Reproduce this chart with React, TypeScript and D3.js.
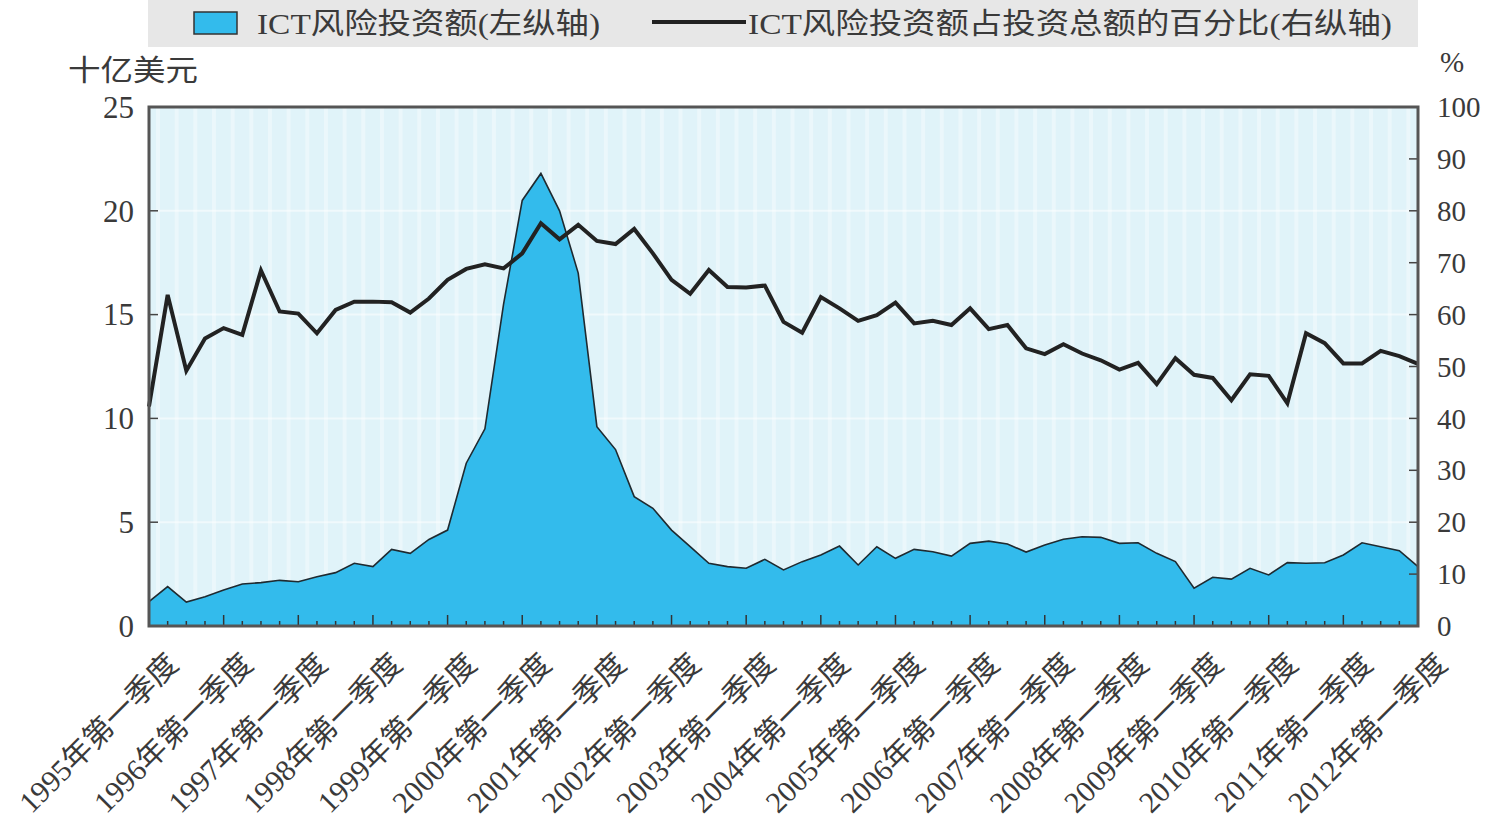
import React from "react";
import * as d3 from "d3";

const years = d3.range(1995, 2013).map((y) => `${y}年第一季度`);

// ICT venture investment, billion USD (left axis), quarterly 1995Q1–2012Q1
const ictInvestment = [
  1.17, 1.9, 1.15, 1.41, 1.73, 2.02, 2.09, 2.2, 2.13, 2.37, 2.57, 3.02, 2.86, 3.69, 3.5, 4.17, 4.62,
  7.84, 9.5, 15.5, 20.5, 21.8, 20.0, 17.0, 9.6, 8.5, 6.23, 5.67, 4.62, 3.82, 3.02, 2.86, 2.78,
  3.21, 2.7, 3.1, 3.42, 3.85, 2.94, 3.82, 3.26, 3.69, 3.58, 3.37, 3.98, 4.09, 3.95, 3.56, 3.9,
  4.18, 4.3, 4.27, 3.98, 4.01, 3.5, 3.1, 1.82, 2.35, 2.26, 2.78, 2.46, 3.05, 3.02, 3.05, 3.42,
  4.01, 3.82, 3.63, 2.86,
];

// Share of ICT in total venture investment, % (right axis)
const ictShare = [
  42.3, 63.8, 49.2, 55.4, 57.4, 56.1, 68.5, 60.6, 60.2, 56.4, 60.9, 62.5, 62.5, 62.4, 60.4, 63.1,
  66.7, 68.8, 69.7, 68.9, 71.8, 77.6, 74.5, 77.3, 74.2, 73.6, 76.5, 71.8, 66.7, 64.0, 68.6, 65.3,
  65.2, 65.6, 58.6, 56.5, 63.4, 61.2, 58.8, 59.9, 62.3, 58.3, 58.8, 58.0, 61.2, 57.2, 58.0, 53.5,
  52.4, 54.3, 52.5, 51.2, 49.4, 50.7, 46.6, 51.6, 48.4, 47.8, 43.5, 48.5, 48.2, 42.9, 56.4, 54.5,
  50.6, 50.6, 53.0, 52.0, 50.5,
];

const leftTicks = [0, 5, 10, 15, 20, 25];
const rightTicks = [0, 10, 20, 30, 40, 50, 60, 70, 80, 90, 100];

const legendArea = "ICT风险投资额(左纵轴)";
const legendLine = "ICT风险投资额占投资总额的百分比(右纵轴)";
const leftTitle = "十亿美元";
const rightTitle = "%";

const FONT = '"Liberation Serif", "Noto Sans CJK SC", serif';
const TEXT = "#3a3a3a";
const BLUE = "#33bbec";

export default function App() {
  const W = 1487;
  const H = 826;
  const x0 = 149,
    x1 = 1418,
    yT = 107,
    yB = 626;
  const n = ictInvestment.length;
  const x = d3.scaleLinear().domain([0, n - 1]).range([x0, x1]);
  const yL = d3.scaleLinear().domain([0, 25]).range([yB, yT]);
  const yR = d3.scaleLinear().domain([0, 100]).range([yB, yT]);

  const area = d3
    .area<number>()
    .x((_, i) => x(i))
    .y0(yB)
    .y1((d) => yL(d))(ictInvestment) as string;
  const top = d3
    .line<number>()
    .x((_, i) => x(i))
    .y((d) => yL(d))(ictInvestment) as string;
  const share = d3
    .line<number>()
    .x((_, i) => x(i))
    .y((d) => yR(d))(ictShare) as string;

  const quarters = d3.range(n);

  return (
    <svg
      width={W}
      height={H}
      style={{ position: "absolute", left: 0, top: 0, background: "#fff" }}
      fontFamily={FONT}
    >
      {/* legend */}
      <rect x={148} y={0} width={1270} height={47} fill="#e7e7e7" />
      <rect x={194} y={12} width={43} height={22} fill={BLUE} stroke="#333" strokeWidth={1.5} />
      <text x={257} y={34} fontSize={29} fill={TEXT} textLength={343} lengthAdjust="spacingAndGlyphs">
        {legendArea}
      </text>
      <line x1={652} x2={746} y1={22} y2={22} stroke="#222" strokeWidth={4} />
      <text x={748} y={34} fontSize={29} fill={TEXT} textLength={644} lengthAdjust="spacingAndGlyphs">
        {legendLine}
      </text>

      {/* axis titles */}
      <text x={68} y={81} fontSize={29} fill={TEXT} textLength={130} lengthAdjust="spacingAndGlyphs">
        {leftTitle}
      </text>
      <text x={1440} y={72} fontSize={29} fill={TEXT}>
        {rightTitle}
      </text>

      {/* plot background */}
      <rect x={x0} y={yT} width={x1 - x0} height={yB - yT} fill="#e0f3f9" />
      {quarters.map((i) => (
        <line
          key={"vs" + i}
          x1={x(i) + 9}
          x2={x(i) + 9}
          y1={yT}
          y2={yB}
          stroke="#ffffff"
          strokeOpacity={0.35}
          strokeWidth={4}
        />
      ))}
      {leftTicks.slice(1, -1).map((t) => (
        <line
          key={"hg" + t}
          x1={x0}
          x2={x1}
          y1={yL(t)}
          y2={yL(t)}
          stroke="#ffffff"
          strokeOpacity={0.5}
          strokeWidth={2}
        />
      ))}

      {/* area */}
      <path d={area} fill={BLUE} />
      <path d={top} fill="none" stroke="#1f2a30" strokeWidth={1.6} />

      {/* share line */}
      <path d={share} fill="none" stroke="#222" strokeWidth={4} strokeLinejoin="miter" />

      {/* ticks */}
      {leftTicks.slice(1, -1).map((t) => (
        <line key={"lt" + t} x1={x0} x2={x0 + 9} y1={yL(t)} y2={yL(t)} stroke="#444" strokeWidth={1.5} />
      ))}
      {rightTicks.slice(1, -1).map((t) => (
        <line key={"rt" + t} x1={x1 - 9} x2={x1} y1={yR(t)} y2={yR(t)} stroke="#444" strokeWidth={1.5} />
      ))}
      {quarters.map((i) => (
        <line
          key={"bt" + i}
          x1={x(i)}
          x2={x(i)}
          y1={yB}
          y2={yB - (i % 4 === 0 ? 11 : 5)}
          stroke="#333"
          strokeWidth={1.5}
        />
      ))}

      {/* border */}
      <rect x={x0} y={yT} width={x1 - x0} height={yB - yT} fill="none" stroke="#555" strokeWidth={3} />

      {/* left tick labels */}
      {leftTicks.map((t) => (
        <text key={"ll" + t} x={134} y={yL(t)} dy="0.35em" fontSize={31} fill={TEXT} textAnchor="end">
          {t}
        </text>
      ))}
      {/* right tick labels */}
      {rightTicks.map((t) => (
        <text key={"rl" + t} x={1437} y={yR(t)} dy="0.35em" fontSize={29} fill={TEXT}>
          {t}
        </text>
      ))}

      {/* x labels */}
      {years.map((label, k) => {
        const px = x(k * 4) + 31;
        const py = 666;
        return (
          <text
            key={label}
            transform={`translate(${px},${py}) rotate(-45)`}
            textAnchor="end"
            fontSize={30}
            fill={TEXT}
          >
            {label}
          </text>
        );
      })}
    </svg>
  );
}
